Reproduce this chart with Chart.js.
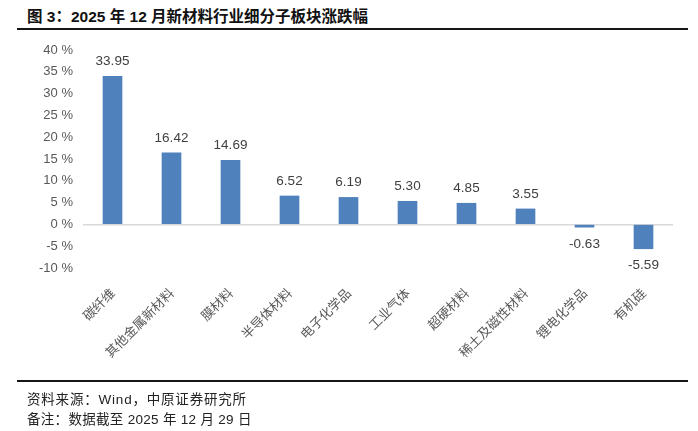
<!DOCTYPE html>
<html>
<head>
<meta charset="utf-8">
<script src="https://cdn.jsdelivr.net/npm/chart.js@4"></script>
<style>
    body { margin: 0; background: #fff; width: 698px; height: 431px; position: relative; overflow: hidden;
           font-family: "Liberation Sans", "Noto Sans CJK SC", sans-serif; }
    #title { position: absolute; left: 27px; top: 4px; font-size: 15.5px; font-weight: bold; color: #111; white-space: nowrap; }
    .rule { position: absolute; left: 17px; width: 671px; height: 2px; background: #161616; }
    .note { position: absolute; left: 27px; font-size: 13.5px; letter-spacing: 0.8px; color: #222; white-space: nowrap; }
    #wrap { position: absolute; left: 0; top: 0; width: 698px; height: 431px; }
</style>
</head>
<body>
<div id="title">图 3：2025 年 12 月新材料行业细分子板块涨跌幅</div>
<div class="rule" style="top:28px"></div>
<div id="wrap"><canvas id="barChart" width="698" height="431"></canvas></div>
<div class="rule" style="top:380px"></div>
<div class="note" style="top:388px">资料来源：Wind，中原证券研究所</div>
<div class="note" style="top:408px; letter-spacing:0.3px">备注：数据截至 2025 年 12 月 29 日</div>

<script>
const categories = ['碳纤维', '其他金属新材料', '膜材料', '半导体材料', '电子化学品',
                    '工业气体', '超硬材料', '稀土及磁性材料', '锂电化学品', '有机硅'];
const changes = [33.95, 16.42, 14.69, 6.52, 6.19, 5.30, 4.85, 3.55, -0.63, -5.59];
const yTicks = [40, 35, 30, 25, 20, 15, 10, 5, 0, -5, -10];

const BAR_COLOR = '#4F81BD';
const TEXT_COLOR = '#595959';

// etiquetas de valor acima / abaixo das barras
const valueLabels = {
    id: 'valueLabels',
    afterDatasetsDraw(chart) {
        const ctx = chart.ctx;
        const meta = chart.getDatasetMeta(0);
        ctx.save();
        ctx.font = '13.5px "Liberation Sans", "Noto Sans CJK SC"';
        ctx.fillStyle = '#404040';
        ctx.textAlign = 'center';
        meta.data.forEach((bar, i) => {
            const v = changes[i];
            if (v >= 0) {
                ctx.textBaseline = 'bottom';
                ctx.fillText(v.toFixed(2), bar.x, bar.y - 8);
            } else {
                ctx.textBaseline = 'top';
                ctx.fillText(v.toFixed(2), bar.x, bar.y + 10);
            }
        });
        ctx.restore();
    }
};

const ctx = document.getElementById('barChart').getContext('2d');
new Chart(ctx, {
    type: 'bar',
    data: {
        labels: categories,
        datasets: [{
            data: changes,
            backgroundColor: BAR_COLOR,
            barThickness: 19
        }]
    },
    options: {
        responsive: false,
        animation: false,
        layout: { padding: { top: 50, right: 25, bottom: 73, left: 0 } },
        plugins: {
            legend: { display: false },
            tooltip: { enabled: false }
        },
        scales: {
            x: {
                grid: { display: false },
                border: { display: false },
                ticks: {
                    color: TEXT_COLOR,
                    font: { family: '"Noto Sans CJK SC"', size: 13 },
                    minRotation: 45,
                    maxRotation: 45,
                    padding: 9,
                    autoSkip: false
                },
                afterFit: (scale) => { scale.height = 90; }
            },
            y: {
                min: -10,
                max: 40,
                afterBuildTicks: (scale) => { scale.ticks = yTicks.map(v => ({ value: v })); },
                grid: {
                    drawTicks: false,
                    lineWidth: 1.5,
                    color: (c) => (c.tick && c.tick.value === 0) ? '#d9d9d9' : 'rgba(0,0,0,0)'
                },
                border: { display: false },
                ticks: {
                    color: TEXT_COLOR,
                    font: { family: '"Liberation Sans", "Noto Sans CJK SC"', size: 13 },
                    padding: 10,
                    callback: (value) => value + ' %'
                },
                afterFit: (scale) => { scale.width = 83; }
            }
        }
    },
    plugins: [valueLabels]
});
</script>
</body>
</html>
